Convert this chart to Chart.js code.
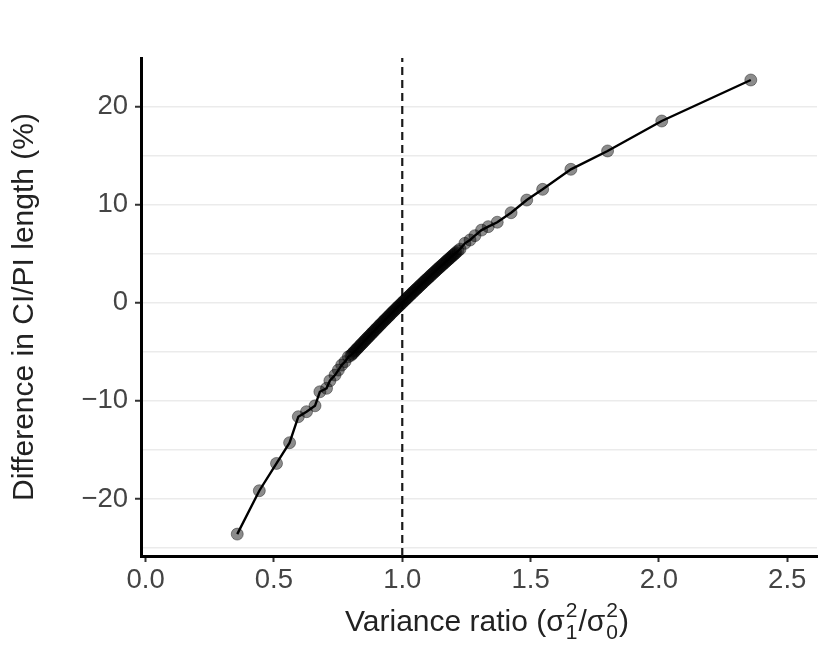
<!DOCTYPE html>
<html>
<head>
<meta charset="utf-8">
<script src="https://cdn.jsdelivr.net/npm/chart.js@4"></script>
<style>
  html, body { margin: 0; padding: 0; background: #fff; }
  #wrap { width: 830px; height: 664px; }
</style>
</head>
<body>
<div id="wrap"><canvas id="ratioChart" width="830" height="664"></canvas></div>
<script>
// variance ratio (x) and difference in CI/PI length in % (y)
const ratioX = [
  0.357, 0.443, 0.510, 0.561, 0.595, 0.627, 0.660, 0.679, 0.705, 0.718,
  0.738, 0.751, 0.764, 0.777, 0.790,
  0.800, 0.805, 0.810, 0.815, 0.820, 0.825, 0.830, 0.835, 0.840, 0.845,
  0.850, 0.855, 0.860, 0.865, 0.870, 0.875, 0.880, 0.885, 0.890, 0.895,
  0.900, 0.905, 0.910, 0.915, 0.920, 0.925, 0.930, 0.935, 0.940, 0.945,
  0.950, 0.955, 0.960, 0.965, 0.970, 0.975, 0.980, 0.985, 0.990, 0.995,
  1.000, 1.005, 1.010, 1.015, 1.020, 1.025, 1.030, 1.035, 1.040, 1.045,
  1.050, 1.055, 1.060, 1.065, 1.070, 1.075, 1.080, 1.085, 1.090, 1.095,
  1.100, 1.105, 1.110, 1.115, 1.120, 1.125, 1.130, 1.135, 1.140, 1.145,
  1.150, 1.155, 1.160, 1.165, 1.170, 1.175, 1.180, 1.185, 1.190, 1.195,
  1.200, 1.205, 1.210, 1.2175, 1.225,
  1.244, 1.264, 1.283, 1.309, 1.335, 1.370, 1.424, 1.485, 1.547, 1.657,
  1.800, 2.011, 2.358
];
const diffPct = [
  -23.57, -19.15, -16.37, -14.26, -11.61, -11.10, -10.50, -9.07, -8.72, -7.95,
  -7.37, -6.86, -6.35, -6.00, -5.50,
  -5.36, -5.22, -5.08, -4.94, -4.80, -4.67, -4.53, -4.39, -4.25, -4.12,
  -3.98, -3.84, -3.70, -3.57, -3.43, -3.30, -3.16, -3.03, -2.89, -2.76,
  -2.62, -2.49, -2.35, -2.22, -2.09, -1.95, -1.82, -1.69, -1.56, -1.43,
  -1.30, -1.16, -1.03, -0.90, -0.77, -0.64, -0.51, -0.38, -0.26, -0.13,
  0.00, 0.13, 0.26, 0.38, 0.51, 0.64, 0.76, 0.89, 1.01, 1.14,
  1.27, 1.39, 1.51, 1.64, 1.76, 1.89, 2.01, 2.13, 2.26, 2.38,
  2.50, 2.62, 2.74, 2.87, 2.99, 3.11, 3.23, 3.35, 3.47, 3.59,
  3.71, 3.83, 3.94, 4.06, 4.18, 4.30, 4.41, 4.53, 4.65, 4.77,
  4.88, 5.00, 5.11, 5.29, 5.46,
  6.05, 6.39, 6.83, 7.40, 7.75, 8.20, 9.17, 10.46, 11.55, 13.59,
  15.46, 18.51, 22.69
];

const xTickValues = [0, 0.5, 1, 1.5, 2, 2.5];
const yGridValues = [-25, -20, -15, -10, -5, 0, 5, 10, 15, 20];
const yTickLabels = [-20, -10, 0, 10, 20];
const refRatio = 1;

const X_MIN = -0.018, X_MAX = 2.616;
const Y_MIN = -25.8, Y_MAX = 24.93;

const yTitle = 'Difference in CI/PI length (%)';
const FONT = "'Liberation Sans', Arial, Helvetica, sans-serif";

const points = ratioX.map((x, i) => ({ x: x, y: diffPct[i] }));

function fmtY(v) {
  return v < 0 ? '\u2212' + Math.abs(v) : String(v);
}

// x title with stacked sub/superscripts, plotmath style
const xTitlePlugin = {
  id: 'xTitle',
  afterDraw(chart) {
    const ctx = chart.ctx;
    const area = chart.chartArea;
    const big = '30px ' + FONT;
    const small = '21px ' + FONT;
    const parts = [
      { t: 'Variance ratio (\u03c3', f: big },
      { sup: '2', sub: '1' },
      { t: '/\u03c3', f: big },
      { sup: '2', sub: '0' },
      { t: ')', f: big }
    ];
    ctx.save();
    ctx.fillStyle = '#222';
    ctx.textBaseline = 'alphabetic';
    ctx.textAlign = 'left';
    let total = 0;
    parts.forEach(p => {
      if (p.t) { ctx.font = p.f; p.w = ctx.measureText(p.t).width; }
      else { ctx.font = small; p.w = Math.max(ctx.measureText(p.sup).width, ctx.measureText(p.sub).width) + 2; }
      total += p.w;
    });
    let x = (area.left + area.right) / 2 + 8 - total / 2;
    const base = 631;
    parts.forEach(p => {
      if (p.t) {
        ctx.font = p.f;
        ctx.fillText(p.t, x, base);
      } else {
        ctx.font = small;
        ctx.fillText(p.sup, x + 1, base - 14);
        ctx.fillText(p.sub, x + 1, base + 8);
      }
      x += p.w;
    });
    ctx.restore();
  }
};

const config = {
  type: 'scatter',
  data: {
    datasets: [
      {
        // reference line at ratio 1
        data: [{ x: refRatio, y: Y_MIN }, { x: refRatio, y: Y_MAX }],
        showLine: true,
        borderColor: '#1a1a1a',
        borderWidth: 2.2,
        borderDash: [8, 5],
        pointRadius: 0,
        order: 3
      },
      {
        data: points,
        showLine: false,
        pointRadius: 6,
        backgroundColor: 'rgba(0,0,0,0.45)',
        borderColor: 'rgba(0,0,0,0.4)',
        borderWidth: 1,
        order: 2
      },
      {
        data: points,
        showLine: true,
        borderColor: '#000',
        borderWidth: 2.4,
        pointRadius: 0,
        order: 1
      }
    ]
  },
  options: {
    responsive: false,
    animation: false,
    devicePixelRatio: 1,
    layout: { padding: { top: 58, right: 13, left: 0, bottom: 0 } },
    plugins: {
      legend: { display: false },
      tooltip: { enabled: false }
    },
    scales: {
      x: {
        type: 'linear',
        min: X_MIN,
        max: X_MAX,
        afterBuildTicks: scale => { scale.ticks = xTickValues.map(v => ({ value: v })); },
        afterFit: scale => { scale.height = 108; },
        ticks: {
          font: { family: FONT, size: 27.5 },
          color: '#444',
          padding: 2,
          maxRotation: 0,
          callback: v => Number(v).toFixed(1)
        },
        grid: {
          drawOnChartArea: false,
          drawTicks: true,
          tickLength: 6,
          tickColor: '#333',
          tickWidth: 2
        },
        border: { display: true, color: '#000', width: 3 },
        title: { display: false }
      },
      y: {
        type: 'linear',
        min: Y_MIN,
        max: Y_MAX,
        afterBuildTicks: scale => { scale.ticks = yGridValues.map(v => ({ value: v })); },
        afterFit: scale => { scale.width = 141; },
        ticks: {
          font: { family: FONT, size: 27.5 },
          color: '#444',
          padding: 7,
          callback: v => yTickLabels.includes(v) ? fmtY(v) : ''
        },
        grid: {
          color: '#ebebeb',
          lineWidth: 1.5,
          drawTicks: true,
          tickLength: 6,
          tickWidth: 2,
          tickColor: c => (c.tick && yTickLabels.includes(c.tick.value)) ? '#333' : 'rgba(0,0,0,0)'
        },
        border: { display: true, color: '#000', width: 3 },
        title: {
          display: true,
          text: yTitle,
          color: '#222',
          font: { family: FONT, size: 30 },
          padding: { top: 7, bottom: 0 }
        }
      }
    }
  },
  plugins: [xTitlePlugin]
};

const ctx = document.querySelector('#ratioChart').getContext('2d');
new Chart(ctx, config);
</script>
</body>
</html>
